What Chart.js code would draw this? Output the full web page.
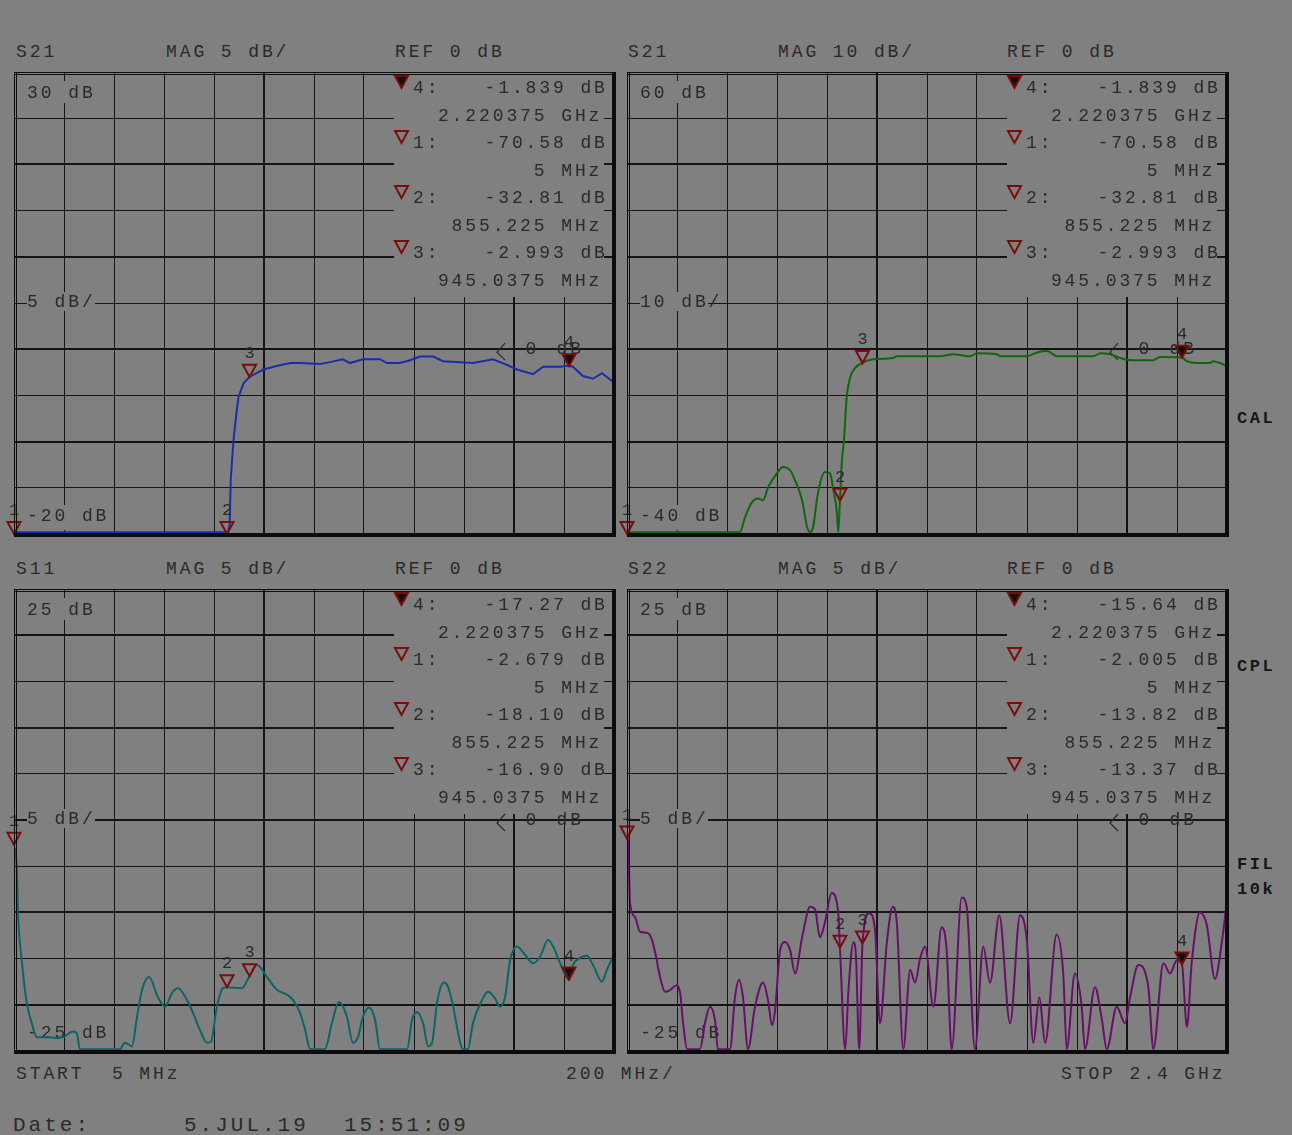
<!DOCTYPE html>
<html><head><meta charset="utf-8">
<script src="https://cdn.jsdelivr.net/npm/chart.js@4.4.1/dist/chart.umd.min.js"></script>
<style>
html,body{margin:0;padding:0;background:#808080;}
#page{position:relative;width:1292px;height:1135px;background:#808080;overflow:hidden;font-family:"Liberation Mono",monospace;color:#2a2a2a;}
.t{position:absolute;font-size:18px;line-height:18px;letter-spacing:2.9px;white-space:pre;}
.d{position:absolute;font-size:21px;line-height:21px;letter-spacing:3px;white-space:pre;}
.b{position:absolute;font-size:17px;line-height:18px;font-weight:bold;letter-spacing:2.6px;color:#161616;white-space:pre;}
canvas{position:absolute;}
</style></head>
<body><div id="page">
<canvas id="c1" width="616" height="472" style="left:4px;top:68px"></canvas>
<canvas id="c2" width="616" height="472" style="left:617px;top:68px"></canvas>
<canvas id="c3" width="616" height="472" style="left:4px;top:585px"></canvas>
<canvas id="c4" width="616" height="472" style="left:617px;top:585px"></canvas>

<div class="t" style="left:16px;top:43px">S21</div>
<div class="t" style="left:166px;top:43px">MAG 5 dB/</div>
<div class="t" style="left:395px;top:43px">REF 0 dB</div>
<div class="t" style="left:628px;top:43px">S21</div>
<div class="t" style="left:778px;top:43px">MAG 10 dB/</div>
<div class="t" style="left:1007px;top:43px">REF 0 dB</div>

<div class="t" style="left:16px;top:560px">S11</div>
<div class="t" style="left:166px;top:560px">MAG 5 dB/</div>
<div class="t" style="left:395px;top:560px">REF 0 dB</div>
<div class="t" style="left:628px;top:560px">S22</div>
<div class="t" style="left:778px;top:560px">MAG 5 dB/</div>
<div class="t" style="left:1007px;top:560px">REF 0 dB</div>

<div class="t" style="left:16px;top:1065px">START  5 MHz</div>
<div class="t" style="left:566px;top:1065px">200 MHz/</div>
<div class="t" style="left:1061px;top:1065px">STOP 2.4 GHz</div>

<div class="d" style="left:13px;top:1115px">Date:</div>
<div class="d" style="left:184px;top:1115px">5.JUL.19</div>
<div class="d" style="left:344px;top:1115px">15:51:09</div>

<div class="b" style="left:1237px;top:410px">CAL</div>
<div class="b" style="left:1237px;top:658px">CPL</div>
<div class="b" style="left:1237px;top:856px">FIL</div>
<div class="b" style="left:1237px;top:881px">10k</div>
</div>
<script>
// ---------------- data ----------------
const START_MHZ = 5, STOP_MHZ = 2400;
const markerFreqs = [5, 855.225, 945.0375, 2220.375];           // MHz, markers 1..4
const markerFreqLabels = ["5 MHz", "855.225 MHz", "945.0375 MHz", "2.220375 GHz"];

const s21aFreq = [5, 859, 866, 870, 881, 893, 901, 921, 945, 1001, 1057, 1109, 1147, 1227, 1266, 1318, 1346, 1398, 1466, 1494, 1546, 1586, 1626, 1678, 1718, 1837, 1917, 1973, 2013, 2077, 2117, 2185, 2220, 2236, 2276, 2316, 2352, 2400];
const s21aDb   = [-19.8, -19.8, -19.0, -14.2, -9.9, -6.9, -5.2, -3.7, -3.0, -2.2, -1.8, -1.5, -1.5, -1.6, -1.4, -1.1, -1.5, -1.1, -1.1, -1.5, -1.5, -1.2, -0.8, -0.8, -1.3, -1.5, -1.1, -1.7, -2.2, -2.7, -1.9, -1.9, -1.8, -1.9, -2.9, -3.2, -2.6, -3.6];
const s21aMarkers = [-70.58, -32.81, -2.993, -1.839];

const s21bFreq = [5, 456, 476, 504, 528, 548, 568, 604, 628, 656, 676, 704, 724, 736, 748, 767, 795, 815, 827, 843, 848, 855, 863, 871, 882, 895, 915, 943, 987, 1067, 1083, 1254, 1306, 1374, 1402, 1482, 1494, 1602, 1642, 1682, 1722, 1865, 1894, 1933, 1973, 2025, 2105, 2133, 2220, 2240, 2280, 2332, 2344, 2372, 2400];
const s21bDb   = [-39.6, -39.6, -36.4, -33.1, -32.3, -32.7, -29.9, -26.8, -25.5, -26.2, -28.4, -32.7, -38.5, -39.6, -38.5, -31.2, -26.6, -26.8, -29.9, -35.5, -39.6, -32.8, -24.0, -19.7, -10.4, -6.3, -4.1, -3.0, -2.2, -1.9, -1.5, -1.5, -1.1, -1.5, -0.9, -1.1, -1.5, -1.5, -0.7, -0.4, -1.5, -1.5, -0.9, -1.1, -1.9, -2.4, -2.4, -1.7, -1.8, -2.6, -3.0, -3.0, -2.6, -3.0, -3.7];
const s21bMarkers = [-70.58, -32.81, -2.993, -1.839];

const s11Freq = [5, 16, 21, 36, 56, 76, 96, 136, 175, 201, 241, 256, 268, 428, 448, 476, 496, 516, 544, 580, 608, 636, 660, 696, 720, 747, 775, 791, 815, 839, 855, 915, 945, 975, 1015, 1055, 1095, 1119, 1147, 1167, 1187, 1246, 1274, 1302, 1334, 1358, 1378, 1398, 1422, 1446, 1466, 1574, 1594, 1614, 1638, 1658, 1674, 1694, 1722, 1738, 1758, 1786, 1797, 1817, 1837, 1873, 1897, 1925, 1945, 1965, 1985, 2013, 2037, 2077, 2105, 2137, 2157, 2185, 2220, 2236, 2265, 2292, 2316, 2352, 2372, 2400];
const s11Db   = [-2.7, -5.1, -10.1, -15.2, -19.8, -22.0, -23.5, -23.5, -23.6, -23.5, -22.9, -23.1, -24.8, -24.8, -24.1, -24.5, -21.3, -18.4, -17.0, -19.2, -20.2, -18.7, -18.2, -19.5, -20.9, -22.7, -24.1, -24.0, -20.2, -18.2, -18.1, -18.2, -16.9, -15.7, -17.0, -18.4, -18.9, -19.5, -20.9, -22.7, -24.8, -24.8, -22.0, -19.7, -21.3, -24.1, -23.5, -21.3, -20.3, -21.6, -24.8, -24.8, -21.6, -20.8, -22.0, -24.5, -24.1, -19.7, -17.6, -18.1, -20.2, -24.1, -24.8, -24.8, -22.0, -19.5, -18.6, -19.3, -20.2, -19.2, -15.2, -13.7, -14.3, -15.5, -14.8, -13.0, -13.7, -15.5, -17.3, -15.7, -14.9, -14.7, -15.7, -17.5, -16.2, -14.6];
const s11Markers = [-2.679, -18.10, -16.90, -17.27];

const s22Freq = [5, 9, 17, 37, 57, 85, 105, 121, 137, 157, 177, 201, 217, 229, 245, 296, 316, 336, 356, 368, 416, 436, 452, 468, 488, 516, 548, 568, 584, 596, 616, 636, 656, 676, 704, 736, 756, 775, 795, 822, 848, 855, 876, 889, 909, 919, 932, 945, 972, 995, 1015, 1042, 1066, 1082, 1108, 1135, 1155, 1175, 1195, 1228, 1261, 1281, 1301, 1341, 1361, 1394, 1427, 1454, 1491, 1534, 1574, 1601, 1627, 1651, 1674, 1720, 1747, 1760, 1793, 1820, 1833, 1873, 1900, 1920, 1960, 1993, 2013, 2046, 2086, 2106, 2146, 2173, 2199, 2220, 2240, 2259, 2292, 2319, 2352, 2379, 2400];
const s22Db   = [-2.0, -2.2, -9.0, -10.5, -12.1, -12.2, -13.0, -14.8, -17.0, -18.6, -18.4, -17.9, -18.7, -22.0, -24.8, -24.8, -22.0, -20.2, -21.6, -24.8, -24.8, -19.2, -17.3, -19.2, -24.8, -20.2, -17.6, -19.5, -22.2, -20.6, -14.1, -13.2, -14.1, -16.6, -12.7, -9.4, -9.7, -12.7, -11.1, -7.9, -10.0, -13.8, -24.8, -18.4, -13.2, -14.8, -24.8, -13.4, -10.1, -11.9, -22.0, -13.3, -9.4, -11.1, -24.8, -16.2, -17.6, -15.0, -13.7, -20.2, -11.6, -14.1, -24.8, -8.4, -9.4, -24.8, -13.7, -17.6, -10.3, -22.0, -10.3, -13.0, -24.1, -19.2, -24.1, -12.4, -16.9, -24.8, -16.6, -20.2, -24.8, -18.1, -21.5, -24.8, -20.2, -22.0, -19.2, -15.7, -18.1, -24.8, -15.5, -16.6, -15.2, -15.6, -22.4, -15.5, -10.0, -11.3, -17.2, -13.3, -8.7];
const s22Markers = [-2.005, -13.82, -13.37, -15.64];

// ---------------- style ----------------
const BG = '#808080', GRID = '#141414', TXT = '#2a2a2a', MRK = '#7c0c0c';
const FONT = '18px "Liberation Mono", monospace';
const FONT_S = '17px "Liberation Mono", monospace';
const P = 13.7;

function monoC(ctx, s, cx0, cy, font, color) {
  ctx.font = font; ctx.fillStyle = color; ctx.textAlign = 'center'; ctx.textBaseline = 'alphabetic';
  for (let i = 0; i < s.length; i++) if (s[i] !== ' ') ctx.fillText(s[i], cx0 + i * P, cy + 6);
}
function monoR(ctx, s, cxLast, cy, font, color) { monoC(ctx, s, cxLast - (s.length - 1) * P, cy, font, color); }

function tri(ctx, x, tipY, filled) {
  ctx.beginPath();
  ctx.moveTo(x - 6.5, tipY - 12); ctx.lineTo(x + 6.5, tipY - 12); ctx.lineTo(x, tipY); ctx.closePath();
  if (filled) { ctx.fillStyle = '#101010'; ctx.fill(); }
  ctx.lineWidth = 2; ctx.strokeStyle = MRK; ctx.stroke();
}

function panelPlugin(p) {
  return {
    id: 'panel_' + p.id,
    beforeDatasetsDraw(chart) {
      const ctx = chart.ctx, a = chart.chartArea, ys = chart.scales.y;
      ctx.save();
      ctx.fillStyle = BG;
      ctx.fillRect(a.left + 380, a.top + 1, 210, 224);      // marker readout area
      ctx.fillRect(a.left + 10, a.top + 9, 78, 22);         // top label
      ctx.fillRect(a.left + 13, a.top + 220, 68, 19);       // scale label
      if (p.blankBottom) ctx.fillRect(a.left + 12, a.top + 433, 84, 25);
      monoC(ctx, p.labels[0], a.left + 18.5, a.top + 20, FONT, TXT);
      monoC(ctx, p.labels[1], a.left + 18.5, a.top + 229, FONT, TXT);
      monoC(ctx, p.labels[2], a.left + 18.5, a.top + 443, FONT, TXT);
      // marker readout block: active marker 4 first, then 1,2,3
      [3, 0, 1, 2].forEach((m, r) => {
        const cy = a.top + 15 + r * 55;
        tri(ctx, a.left + 387.5, cy + 1, m === 3);
        monoC(ctx, (m + 1) + ':', a.left + 404.5, cy, FONT, TXT);
        monoR(ctx, p.markers[m].toPrecision(4) + ' dB', a.left + 585.5, cy, FONT, TXT);
        monoR(ctx, markerFreqLabels[m], a.left + 580, cy + 28, FONT, TXT);
      });
      // reference position indicator
      const ry = ys.getPixelForValue(0);
      ctx.beginPath();
      ctx.moveTo(a.left + 491, ry - 6); ctx.lineTo(a.left + 483, ry + 3); ctx.lineTo(a.left + 491, ry + 11);
      ctx.lineWidth = 1.2; ctx.strokeStyle = TXT; ctx.stroke();
      monoC(ctx, '0', a.left + 517, ry - 1, FONT, TXT);
      monoC(ctx, 'dB', a.left + 548, ry - 1, FONT, TXT);
      ctx.restore();
    },
    afterDatasetsDraw(chart) {
      const ctx = chart.ctx, a = chart.chartArea, xs = chart.scales.x, ys = chart.scales.y;
      ctx.save();
      markerFreqs.forEach((f, i) => {
        const v = Math.max(ys.min, Math.min(ys.max, p.markers[i]));
        const x = xs.getPixelForValue(f), y = ys.getPixelForValue(v);
        tri(ctx, x, y, i === 3);
        ctx.font = FONT_S; ctx.fillStyle = TXT; ctx.textAlign = 'center'; ctx.textBaseline = 'alphabetic';
        ctx.fillText(String(i + 1), x, y - 19);
      });
      // frame
      ctx.fillStyle = '#0c0c0c';
      ctx.fillRect(a.left, a.top, a.right - a.left, 1);
      ctx.fillRect(a.left, a.top + 2, a.right - a.left, 1);
      ctx.fillRect(a.left, a.top, 1, a.bottom - a.top);
      ctx.fillRect(a.left + 2, a.top, 1, a.bottom - a.top);
      ctx.fillRect(a.right - 2, a.top, 4, a.bottom - a.top + 3);
      ctx.fillRect(a.left, a.bottom - 1, a.right - a.left + 2, 4);
      ctx.restore();
    }
  };
}

function makeChart(id, p) {
  const dbl = p.topPanel ? [2, 4, 6, 8] : [1, 3, 5, 7, 9];
  return new Chart(document.getElementById(id), {
    type: 'line',
    data: { datasets: [{
      data: p.freq.map((f, i) => ({ x: f, y: p.db[i] })),
      borderColor: p.color, borderWidth: 2, pointRadius: 0,
      cubicInterpolationMode: p.smooth ? 'monotone' : 'default', tension: 0, fill: false
    }]},
    options: {
      responsive: false, animation: false, devicePixelRatio: 1,
      layout: { padding: { left: 10, top: 4, right: 6, bottom: 6 } },
      plugins: { legend: { display: false }, tooltip: { enabled: false } },
      scales: {
        x: {
          type: 'linear', min: START_MHZ, max: STOP_MHZ,
          afterBuildTicks: ax => { ax.ticks = Array.from({ length: 13 }, (_, k) => ({ value: START_MHZ + k * (STOP_MHZ - START_MHZ) / 12 })); },
          ticks: { display: false },
          grid: { color: GRID, drawTicks: false, lineWidth: c => (c.index === 5 || c.index === 10) ? 2 : 1 },
          border: { display: false }
        },
        y: {
          type: 'linear', min: p.min, max: p.max,
          ticks: { display: false, stepSize: p.step },
          grid: { color: GRID, drawTicks: false, lineWidth: c => dbl.includes(c.index) ? 2 : 1 },
          border: { display: false }
        }
      }
    },
    plugins: [panelPlugin(p)]
  });
}

makeChart('c1', { id: 1, topPanel: true, freq: s21aFreq, db: s21aDb, markers: s21aMarkers, min: -20, max: 30, step: 5,
  color: '#1c2ea6', smooth: false, labels: ['30 dB', '5 dB/', '-20 dB'], blankBottom: true });
makeChart('c2', { id: 2, topPanel: true, freq: s21bFreq, db: s21bDb, markers: s21bMarkers, min: -40, max: 60, step: 10,
  color: '#0e660e', smooth: true, labels: ['60 dB', '10 dB/', '-40 dB'], blankBottom: true });
makeChart('c3', { id: 3, topPanel: false, freq: s11Freq, db: s11Db, markers: s11Markers, min: -25, max: 25, step: 5,
  color: '#0b6565', smooth: true, labels: ['25 dB', '5 dB/', '-25 dB'], blankBottom: false });
makeChart('c4', { id: 4, topPanel: false, freq: s22Freq, db: s22Db, markers: s22Markers, min: -25, max: 25, step: 5,
  color: '#681068', smooth: true, labels: ['25 dB', '5 dB/', '-25 dB'], blankBottom: false });
</script>
</body></html>
